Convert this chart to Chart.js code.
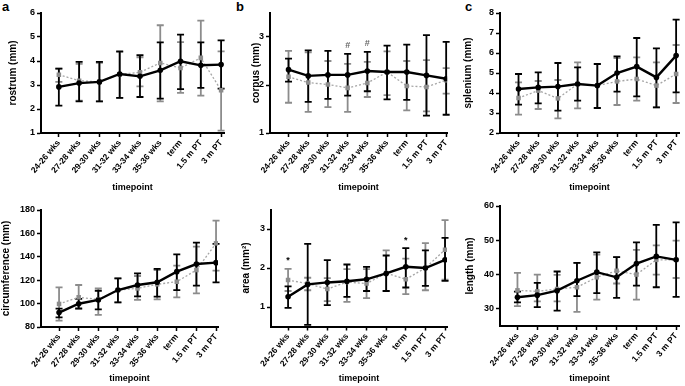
<!DOCTYPE html>
<html>
<head>
<meta charset="utf-8">
<script src="https://cdn.jsdelivr.net/npm/chart.js@4.4.1/dist/chart.umd.min.js"></script>
<style>
    body { margin: 0; background: #fff; width: 685px; height: 386px; position: relative; overflow: hidden; font-family: "Liberation Sans", Arial, sans-serif; }
    canvas { position: absolute; }
    .letter { position: absolute; font-weight: bold; font-size: 13px; color: #000; line-height: 13px; }
</style>
</head>
<body>
<div class="letter" style="left:2px;top:0px">a</div>
<div class="letter" style="left:236px;top:0px">b</div>
<div class="letter" style="left:465px;top:0px">c</div>

<canvas id="rostrumChart" width="230" height="195" style="left:0;top:0"></canvas>
<canvas id="corpusChart" width="225" height="195" style="left:230px;top:0"></canvas>
<canvas id="spleniumChart" width="230" height="195" style="left:455px;top:0"></canvas>
<canvas id="circChart" width="230" height="194" style="left:0;top:192px"></canvas>
<canvas id="areaChart" width="225" height="194" style="left:230px;top:192px"></canvas>
<canvas id="lengthChart" width="230" height="194" style="left:455px;top:192px"></canvas>

<script>
// --- Data ---
const timepoints = ['24-26 wks', '27-28 wks', '29-30 wks', '31-32 wks', '33-34 wks', '35-36 wks', 'term', '1.5 m PT', '3 m PT'];

// series 1 = solid black line, series 2 = dotted grey line; Lo/Hi = ends of the error bars
const rostrum1 = [2.92, 3.08, 3.13, 3.46, 3.36, 3.61, 3.99, 3.82, 3.85];
const rostrum1Lo = [2.14, 2.32, 2.32, 2.46, 2.50, 2.43, 2.83, 2.88, 2.85];
const rostrum1Hi = [3.68, 3.96, 3.96, 4.40, 4.24, 4.78, 5.10, 4.78, 4.86];
const rostrum2 = [3.43, 3.18, 3.13, 3.44, 3.53, 3.92, 3.71, 4.13, 2.78];
const rostrum2Lo = [3.13, 2.35, 2.32, 2.46, 2.94, 2.32, 2.67, 2.56, 1.10];
const rostrum2Hi = [3.68, 3.88, 3.92, 4.38, 4.15, 5.49, 4.79, 5.68, 4.40];
const rostrumTicks = [1, 2, 3, 4, 5, 6];

const corpus1 = [2.32, 2.19, 2.21, 2.21, 2.29, 2.27, 2.27, 2.20, 2.13];
const corpus1Lo = [2.07, 1.65, 1.71, 1.78, 1.87, 1.70, 1.69, 1.36, 1.38];
const corpus1Hi = [2.55, 2.72, 2.71, 2.65, 2.69, 2.82, 2.84, 3.04, 2.90];
const corpus2 = [2.17, 2.05, 2.01, 1.94, 2.04, 2.27, 1.98, 1.96, 2.10];
const corpus2Lo = [1.63, 1.44, 1.54, 1.44, 1.75, 1.79, 1.47, 1.45, 1.82];
const corpus2Hi = [2.71, 2.68, 2.50, 2.44, 2.48, 2.70, 2.50, 2.52, 2.35];
const corpusTicks = [1, 2, 3];
const corpusMarks = ['', '', '', '#', '#', '', '', '', ''];

const splenium1 = [4.20, 4.28, 4.32, 4.45, 4.37, 5.00, 5.32, 4.78, 5.87];
const splenium1Lo = [3.42, 3.48, 3.12, 3.62, 3.25, 4.07, 3.83, 3.28, 4.03];
const splenium1Hi = [4.95, 5.03, 5.50, 5.28, 5.45, 5.83, 6.75, 6.23, 7.67];
const splenium2 = [3.75, 4.12, 3.73, 4.45, 4.37, 4.58, 4.70, 4.37, 4.95];
const splenium2Lo = [2.92, 3.20, 2.73, 3.23, 3.25, 3.40, 3.62, 3.28, 3.50];
const splenium2Hi = [4.53, 4.60, 4.65, 5.53, 5.45, 5.75, 5.78, 5.53, 6.40];
const spleniumTicks = [2, 3, 4, 5, 6, 7, 8];

const circ1 = [92.3, 99.9, 103.1, 111.6, 115.9, 118.2, 127.3, 133.8, 135.0];
const circ1Lo = [88.3, 96.0, 95.1, 101.1, 106.2, 105.9, 111.6, 115.3, 118.2];
const circ1Hi = [95.7, 104.0, 111.0, 121.6, 125.9, 129.6, 142.1, 152.1, 151.0];
const circ2 = [99.7, 105.4, 103.6, 111.6, 113.0, 116.5, 118.7, 128.7, 151.5];
const circ2Lo = [85.4, 95.4, 90.3, 101.1, 103.1, 103.6, 105.4, 108.8, 128.1];
const circ2Hi = [113.9, 115.9, 113.0, 121.6, 123.6, 128.7, 132.4, 148.7, 170.9];
const circTicks = [80, 100, 120, 140, 160, 180];

const area1 = [1.26, 1.58, 1.63, 1.66, 1.71, 1.86, 2.03, 2.00, 2.21];
const area1Lo = [0.98, 0.54, 1.05, 1.26, 1.41, 1.41, 1.50, 1.54, 1.67];
const area1Hi = [1.53, 2.62, 2.20, 2.09, 2.03, 2.32, 2.51, 2.45, 2.77];
const area2 = [1.69, 1.60, 1.46, 1.64, 1.60, 1.87, 1.71, 2.00, 2.47];
const area2Lo = [1.41, 1.43, 1.15, 1.13, 1.23, 1.41, 1.33, 1.43, 1.70];
const area2Hi = [1.98, 1.75, 1.74, 1.97, 1.97, 2.45, 2.24, 2.64, 3.23];
const areaTicks = [1, 2, 3];
const areaMarks = ['*', '', '', '', '', '', '*', '', ''];

const length1 = [33.4, 34.0, 35.3, 38.2, 40.7, 39.2, 43.2, 45.3, 44.3];
const length1Lo = [31.9, 30.5, 29.5, 33.7, 34.6, 33.2, 36.8, 36.3, 33.5];
const length1Hi = [35.0, 37.6, 40.9, 43.4, 46.5, 45.1, 49.4, 54.5, 55.2];
const length2 = [35.4, 35.1, 35.8, 36.3, 39.2, 41.1, 40.0, 44.3, 44.3];
const length2Lo = [30.8, 32.2, 32.2, 29.1, 32.7, 37.4, 32.7, 40.0, 39.0];
const length2Hi = [40.5, 40.0, 39.9, 43.4, 45.8, 45.1, 47.2, 48.5, 49.9];
const lengthTicks = [30, 40, 50, 60];

// --- Helpers ---
const FONT = '"Liberation Sans", Arial, sans-serif';
const BLACK = '#000';
const GREY = '#8c8c8c';
const toPoints = (arr) => arr.map((v, i) => ({ x: i, y: v }));

// error bars (drawn under the lines) and significance marks
const errorBars = {
    id: 'errorBars',
    beforeDatasetsDraw(chart) {
        const { ctx, scales: { x, y } } = chart;
        // black bars first, grey ones drawn over them like in the original
        [...chart.data.datasets].reverse().forEach(ds => {
            ctx.save();
            ctx.strokeStyle = ds.barColor;
            ctx.lineWidth = ds.barWidth;
            ds.errLo.forEach((lo, i) => {
                const px = x.getPixelForValue(i);
                const top = y.getPixelForValue(ds.errHi[i]);
                const bot = y.getPixelForValue(lo);
                ctx.beginPath();
                ctx.moveTo(px, top); ctx.lineTo(px, bot);
                ctx.moveTo(px - 3.5, top); ctx.lineTo(px + 3.5, top);
                ctx.moveTo(px - 3.5, bot); ctx.lineTo(px + 3.5, bot);
                ctx.stroke();
            });
            ctx.restore();
        });
    },
    afterDatasetsDraw(chart, args, opts) {
        if (!opts.marks) return;
        const { ctx, scales: { x, y } } = chart;
        const sets = chart.data.datasets;
        ctx.save();
        ctx.font = 'bold 9px ' + FONT;
        ctx.fillStyle = opts.markColor || BLACK;
        ctx.textAlign = 'center';
        ctx.textBaseline = 'middle';
        opts.marks.forEach((m, i) => {
            if (!m) return;
            const hi = Math.max(...sets.map(ds => ds.errHi[i]));
            ctx.fillText(m, x.getPixelForValue(i), y.getPixelForValue(hi) - 8);
        });
        ctx.restore();
    }
};

const makePanel = (id, p) => {
    const ctx = document.getElementById(id).getContext('2d');
    return new Chart(ctx, {
        type: 'line',
        data: {
            datasets: [{
                data: toPoints(p.s1), errLo: p.s1Lo, errHi: p.s1Hi,
                borderColor: BLACK, borderWidth: 2.4,
                pointRadius: 2.8, pointBackgroundColor: BLACK, pointBorderWidth: 0,
                barColor: BLACK, barWidth: 1.8
            }, {
                data: toPoints(p.s2), errLo: p.s2Lo, errHi: p.s2Hi,
                borderColor: '#a6a6a6', borderWidth: 1.3, borderDash: [2, 2],
                pointStyle: 'rect', pointRadius: 3.2, pointBackgroundColor: GREY, pointBorderWidth: 0,
                barColor: GREY, barWidth: 1.8
            }]
        },
        options: {
            responsive: false,
            animation: false,
            events: [],
            layout: { padding: { top: p.padTop, right: p.padRight, left: 0, bottom: 0 } },
            plugins: {
                legend: { display: false },
                tooltip: { enabled: false },
                errorBars: { marks: p.marks, markColor: p.markColor }
            },
            scales: {
                x: {
                    type: 'linear',
                    min: p.xMin, max: p.xMax,
                    afterBuildTicks: s => { s.ticks = timepoints.map((t, i) => ({ value: i })); },
                    afterFit: s => { s.height = p.xHeight; },
                    border: { color: BLACK, width: 2 },
                    grid: { drawOnChartArea: false, tickLength: 4, tickColor: BLACK, tickWidth: 1.5 },
                    ticks: {
                        autoSkip: false, maxRotation: 50, minRotation: 50, padding: 1,
                        color: BLACK, font: { family: FONT, size: 8.5, weight: 'bold' },
                        callback: v => timepoints[v]
                    },
                    title: {
                        display: true, text: 'timepoint', color: BLACK,
                        font: { family: FONT, size: 9, weight: 'bold' },
                        padding: { top: 0, bottom: 2.5 }
                    }
                },
                y: {
                    min: p.yMin, max: p.yMax,
                    afterBuildTicks: s => {
                        const vals = p.minorStep
                            ? Array.from({ length: Math.round((p.yMax - p.yMin) / p.minorStep) + 1 }, (_, k) => p.yMin + k * p.minorStep)
                            : p.yTicks;
                        s.ticks = vals.map(v => ({ value: v }));
                    },
                    afterFit: s => { s.width = p.yWidth; },
                    border: { color: BLACK, width: 2 },
                    grid: { drawOnChartArea: false, tickLength: 4, tickColor: BLACK, tickWidth: 1.5 },
                    ticks: {
                        padding: 2, color: BLACK, font: { family: FONT, size: 9, weight: 'bold' },
                        callback: v => (p.yTicks.includes(v) ? String(v) : '')
                    },
                    title: {
                        display: true, text: p.yTitle, color: BLACK,
                        font: { family: FONT, size: 10, weight: 'bold' },
                        padding: { top: p.titlePad, bottom: 0 }
                    }
                }
            }
        },
        plugins: [errorBars]
    });
};

// --- Panels ---
makePanel('rostrumChart', {
    s1: rostrum1, s1Lo: rostrum1Lo, s1Hi: rostrum1Hi, s2: rostrum2, s2Lo: rostrum2Lo, s2Hi: rostrum2Hi,
    yMin: 1, yMax: 6, yTicks: rostrumTicks, yTitle: 'rostrum (mm)',
    xMin: -0.88, xMax: 8.15, yWidth: 41, xHeight: 62, padTop: 13, padRight: 5, titlePad: 7
});
makePanel('corpusChart', {
    s1: corpus1, s1Lo: corpus1Lo, s1Hi: corpus1Hi, s2: corpus2, s2Lo: corpus2Lo, s2Hi: corpus2Hi,
    yMin: 1, yMax: 3.5, yTicks: corpusTicks, yTitle: 'corpus (mm)', marks: corpusMarks, markColor: '#666',
    xMin: -0.94, xMax: 8.05, yWidth: 40, xHeight: 62, padTop: 13, padRight: 3, titlePad: 20
});
makePanel('spleniumChart', {
    s1: splenium1, s1Lo: splenium1Lo, s1Hi: splenium1Hi, s2: splenium2, s2Lo: splenium2Lo, s2Hi: splenium2Hi,
    yMin: 2, yMax: 8, yTicks: spleniumTicks, yTitle: 'splenium (mm)',
    xMin: -0.94, xMax: 8.15, yWidth: 45, xHeight: 62, padTop: 13, padRight: 1, titlePad: 7
});
makePanel('circChart', {
    s1: circ1, s1Lo: circ1Lo, s1Hi: circ1Hi, s2: circ2, s2Lo: circ2Lo, s2Hi: circ2Hi,
    yMin: 80, yMax: 180, yTicks: circTicks, minorStep: 10, yTitle: 'circumference (mm)',
    xMin: -0.92, xMax: 8.1, yWidth: 41, xHeight: 59, padTop: 18, padRight: 12, titlePad: 0
});
makePanel('areaChart', {
    s1: area1, s1Lo: area1Lo, s1Hi: area1Hi, s2: area2, s2Lo: area2Lo, s2Hi: area2Hi,
    yMin: 0.5, yMax: 3.5, yTicks: areaTicks, yTitle: 'area (mm²)', marks: areaMarks,
    xMin: -0.87, xMax: 8.1, yWidth: 41, xHeight: 59.5, padTop: 17.5, padRight: 8, titlePad: 10
});
makePanel('lengthChart', {
    s1: length1, s1Lo: length1Lo, s1Hi: length1Hi, s2: length2, s2Lo: length2Lo, s2Hi: length2Hi,
    yMin: 25, yMax: 60, yTicks: lengthTicks, yTitle: 'length (mm)',
    xMin: -0.88, xMax: 8.15, yWidth: 45, xHeight: 60, padTop: 14, padRight: 1, titlePad: 9
});
</script>
</body>
</html>
